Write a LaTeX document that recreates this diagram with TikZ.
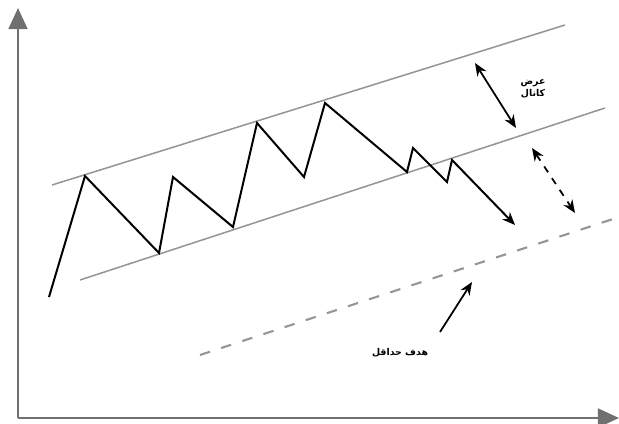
\documentclass[tikz,border=0pt]{standalone}
\usepackage{fontspec}
\newfontfamily\arabicfont[Script=Arabic]{DejaVu Sans}
\TeXXeTstate=1
\usetikzlibrary{arrows.meta}
\definecolor{axisgray}{HTML}{707070}
\definecolor{linegray}{HTML}{959595}
\begin{document}
\begin{tikzpicture}[x=0.03cm,y=-0.03cm,
  ax/.style={draw=axisgray,line width=2.4pt,-{Triangle[length=18pt,width=16pt]}},
  chan/.style={draw=linegray,line width=1.3pt},
  price/.style={draw=black,line width=1.7pt,line join=miter},
  dbl/.style={draw=black,line width=1.5pt,{Stealth[length=11pt,width=9pt]}-{Stealth[length=11pt,width=9pt]}},
  lbl/.style={font=\arabicfont\bfseries\fontsize{8}{10}\selectfont,inner sep=1pt,align=center}]
  \useasboundingbox (0,0) rectangle (619,424);
  % axes
  \coordinate (o) at (18,418); \coordinate (ytop) at (18,8); \coordinate (xend) at (619,418);
  \draw[ax] (o)--(ytop); \draw[ax] (o)--(xend);
  % channel and target lines
  \coordinate (u1) at (52,185); \coordinate (u2) at (565,25);
  \coordinate (m1) at (80,280); \coordinate (m2) at (605,108);
  \coordinate (t1) at (200,355); \coordinate (t2) at (613,219);
  \draw[chan] (u1)--(u2); \draw[chan] (m1)--(m2);
  \draw[chan,line width=1.8pt,dash pattern=on 9pt off 10pt] (t1)--(t2);
  % price path
  \foreach \n/\p in {0/{49,297},1/{85,176},2/{159,253},3/{173,177},4/{233,227},5/{257,123},6/{304,177},
    7/{325,103},8/{407,172},9/{413,148},10/{447,182},11/{452,160},12/{515,225}}
    \coordinate (p\n) at (\p);
  \draw[price,-{Stealth[length=11pt,width=9pt]}] (p0)--(p1)--(p2)--(p3)--(p4)--(p5)--(p6)--(p7)--(p8)--(p9)--(p10)--(p11)--(p12);
  % width arrows
  \coordinate (w1) at (475,63); \coordinate (w2) at (516,128);
  \coordinate (d1) at (532,148); \coordinate (d2) at (575,213);
  \draw[dbl] (w1)--(w2); \draw[dbl,dash pattern=on 6pt off 6pt] (d1)--(d2);
  \node[lbl] (width) at (533,89) {\beginR عرض\endR\\\beginR کانال\endR};
  % target
  \node[lbl] (target) at (400,353) {\beginR هدف حداقل\endR};
  \coordinate (g1) at (440,332); \coordinate (g2) at (472,282);
  \draw[black,line width=1.5pt,-{Stealth[length=11pt,width=9pt]}] (g1)--(g2);
\end{tikzpicture}
\end{document}
